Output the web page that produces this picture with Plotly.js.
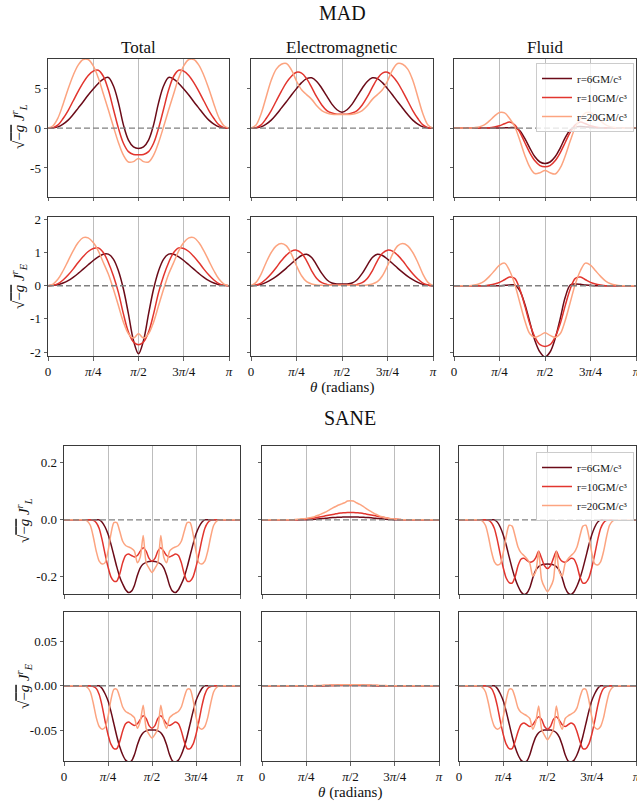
<!DOCTYPE html>
<html><head><meta charset="utf-8">
<script src="https://cdn.plot.ly/plotly-3.0.1.min.js"></script>
<style>html,body{margin:0;padding:0;background:#fff}#chart{width:637px;height:804px}</style>
</head><body><div id="chart"></div>
<script>
// ---------- DATA ----------
const madThetaDeg = [0,5,10,15,20,25,30,35,40,45,50,55,60,65,70,75,80,85,90,95,100,105,110,115,120,125,130,135,140,145,150,155,160,165,170,175,180];
const saneThetaDeg = [0,3,6,9,12,15,18,21,24,27,30,33,36,39,42,45,48,51,54,57,60,63,66,69,72,75,78,81,84,87,90,93,96,99,102,105,108,111,114,117,120,123,126,129,132,135,138,141,144,147,150,153,156,159,162,165,168,171,174,177,180];

const seriesNames = ['r=6GM/c³','r=10GM/c³','r=20GM/c³'];
const columnTitles = ['Total','Electromagnetic','Fluid'];
const groupTitles = ['MAD','SANE'];
const xTickVals = [0, Math.PI/4, Math.PI/2, 3*Math.PI/4, Math.PI];
const xTickText = ['0','<i>π</i>/4','<i>π</i>/2','3<i>π</i>/4','<i>π</i>'];
const madLTicks = [-5,0,5], madLText = ['-5','0','5'];
const madETicks = [-2,-1,0,1,2], madEText = ['-2','-1','0','1','2'];
const saneLTicks = [-0.2,0,0.2], saneLText = ['-0.2','0.0','0.2'];
const saneETicks = [-0.05,0,0.05], saneEText = ['-0.05','0.00','0.05'];

// MAD, L
const madTotL6  = [0,0.02,0.15,0.5,1.0,1.7,2.5,3.3,4.15,4.9,5.6,6.15,6.35,5.3,3.2,0.4,-1.5,-2.35,-2.55,-2.35,-1.5,0.4,3.2,5.3,6.35,6.15,5.6,4.9,4.15,3.3,2.5,1.7,1.0,0.5,0.15,0.02,0];
const madTotL10 = [0,0.05,0.4,1.2,2.2,3.4,4.6,5.7,6.6,7.15,7.25,6.5,4.8,2.4,0.0,-1.9,-2.95,-3.3,-3.35,-3.3,-2.95,-1.9,0.0,2.4,4.8,6.5,7.25,7.15,6.6,5.7,4.6,3.4,2.2,1.2,0.4,0.05,0];
const madTotL20 = [0,0.3,1.3,3.0,4.9,6.6,7.9,8.6,8.6,7.8,6.3,4.3,2.3,0.2,-1.8,-3.4,-4.25,-4.2,-3.8,-4.2,-4.25,-3.4,-1.8,0.2,2.3,4.3,6.3,7.8,8.6,8.6,7.9,6.6,4.9,3.0,1.3,0.3,0];
const madEmL6   = [0,0.02,0.15,0.5,1.0,1.7,2.5,3.3,4.15,4.95,5.7,6.2,6.3,5.85,5.0,4.0,3.0,2.3,2.0,2.3,3.0,4.0,5.0,5.85,6.3,6.2,5.7,4.95,4.15,3.3,2.5,1.7,1.0,0.5,0.15,0.02,0];
const madEmL10  = [0,0.05,0.4,1.2,2.2,3.4,4.6,5.7,6.5,7.0,6.9,6.2,5.1,3.9,2.9,2.2,1.9,1.75,1.75,1.75,1.9,2.2,2.9,3.9,5.1,6.2,6.9,7.0,6.5,5.7,4.6,3.4,2.2,1.2,0.4,0.05,0];
const madEmL20  = [0,0.4,1.8,3.9,6.0,7.4,8.0,8.1,7.3,5.9,4.8,4.2,3.6,2.8,2.2,1.9,1.75,1.7,1.7,1.7,1.75,1.9,2.2,2.8,3.6,4.2,4.8,5.9,7.3,8.1,8.0,7.4,6.0,3.9,1.8,0.4,0];
const madFlL6   = [0,0,0,0,0,0,0,0,0,0.01,0.03,0.05,0.05,-0.3,-1.3,-2.5,-3.6,-4.25,-4.45,-4.25,-3.6,-2.5,-1.2,-0.2,0.15,0.2,0.15,0.1,0.05,0.02,0,0,0,0,0,0,0];
const madFlL10  = [0,0,0,0,0,0,0.02,0.05,0.15,0.3,0.55,0.75,0.4,-0.5,-1.8,-3.1,-4.1,-4.7,-4.85,-4.7,-4.1,-3.1,-1.8,-0.5,0.4,0.75,0.55,0.3,0.15,0.05,0.02,0,0,0,0,0,0];
const madFlL20  = [0,0,0,0,0.05,0.15,0.4,0.9,1.5,1.95,1.9,1.2,0.2,-1.5,-3.4,-4.9,-5.7,-5.6,-5.3,-5.6,-5.75,-5.0,-3.5,-1.6,0.1,1.2,1.9,1.95,1.5,0.9,0.4,0.15,0.05,0,0,0,0];
// MAD, E
const madTotE6  = [0,0.01,0.03,0.08,0.15,0.25,0.37,0.5,0.63,0.76,0.87,0.95,0.95,0.8,0.45,-0.1,-0.85,-1.65,-2.05,-1.65,-0.85,-0.1,0.45,0.8,0.95,0.95,0.87,0.76,0.63,0.5,0.37,0.25,0.15,0.08,0.03,0.01,0];
const madTotE10 = [0,0.01,0.06,0.17,0.32,0.5,0.7,0.88,1.03,1.12,1.14,1.0,0.7,0.3,-0.2,-0.85,-1.4,-1.7,-1.78,-1.7,-1.4,-0.85,-0.2,0.3,0.7,1.0,1.14,1.12,1.03,0.88,0.7,0.5,0.32,0.17,0.06,0.01,0];
const madTotE20 = [0,0.05,0.2,0.45,0.75,1.05,1.3,1.45,1.44,1.3,1.05,0.7,0.35,-0.1,-0.6,-1.1,-1.45,-1.58,-1.45,-1.58,-1.45,-1.1,-0.6,-0.1,0.35,0.7,1.05,1.3,1.44,1.45,1.3,1.05,0.75,0.45,0.2,0.05,0];
const madEmE6   = [0,0.01,0.04,0.1,0.18,0.28,0.4,0.53,0.67,0.8,0.91,0.95,0.85,0.62,0.37,0.18,0.08,0.05,0.05,0.05,0.08,0.18,0.37,0.62,0.85,0.95,0.91,0.8,0.67,0.53,0.4,0.28,0.18,0.1,0.04,0.01,0];
const madEmE10  = [0,0.02,0.08,0.2,0.36,0.55,0.75,0.92,1.04,1.07,0.98,0.75,0.45,0.22,0.09,0.04,0.02,0.02,0.02,0.02,0.02,0.04,0.09,0.22,0.45,0.75,0.98,1.07,1.04,0.92,0.75,0.55,0.36,0.2,0.08,0.02,0];
const madEmE20  = [0,0.1,0.35,0.7,1.0,1.2,1.27,1.2,0.95,0.6,0.3,0.12,0.05,0.02,0.01,0.01,0.01,0.01,0.01,0.01,0.01,0.01,0.01,0.02,0.05,0.12,0.3,0.6,0.95,1.2,1.27,1.2,1.0,0.7,0.35,0.1,0];
const madFlE6   = [0,0,0,0,0,0,0,0,0,0,0.01,0.02,0.02,-0.15,-0.55,-1.1,-1.65,-2.0,-2.15,-2.0,-1.6,-1.0,-0.35,0.02,0.05,0.04,0.02,0.01,0,0,0,0,0,0,0,0,0];
const madFlE10  = [0,0,0,0,0,0,0,0.02,0.05,0.1,0.18,0.26,0.22,-0.1,-0.6,-1.15,-1.55,-1.78,-1.83,-1.78,-1.55,-1.15,-0.6,-0.1,0.22,0.26,0.18,0.1,0.05,0.02,0,0,0,0,0,0,0];
const madFlE20  = [0,0,0,0,0.02,0.06,0.14,0.28,0.45,0.62,0.68,0.45,0.05,-0.5,-1.05,-1.45,-1.56,-1.5,-1.42,-1.5,-1.56,-1.45,-1.05,-0.5,0.05,0.45,0.68,0.62,0.45,0.28,0.14,0.06,0.02,0,0,0,0];
// SANE, L
const saneTotL6  = [0,0,0,0,0,0,0,0,0,0,0,0,0,-0.008,-0.025,-0.05,-0.085,-0.125,-0.165,-0.2,-0.225,-0.245,-0.255,-0.25,-0.23,-0.195,-0.168,-0.155,-0.149,-0.146,-0.145,-0.146,-0.149,-0.155,-0.168,-0.195,-0.23,-0.25,-0.255,-0.245,-0.225,-0.2,-0.165,-0.125,-0.085,-0.05,-0.025,-0.008,0,0,0,0,0,0,0,0,0,0,0,0,0];
const saneTotL10 = [0,0,0,0,0,0,0,0,0,0,-0.002,-0.01,-0.03,-0.07,-0.12,-0.165,-0.2,-0.215,-0.215,-0.19,-0.15,-0.125,-0.12,-0.125,-0.13,-0.125,-0.11,-0.098,-0.11,-0.135,-0.145,-0.135,-0.11,-0.098,-0.11,-0.125,-0.13,-0.125,-0.12,-0.125,-0.15,-0.19,-0.215,-0.215,-0.2,-0.165,-0.12,-0.07,-0.03,-0.01,-0.002,0,0,0,0,0,0,0,0,0,0];
const saneTotL20 = [0,0,0,0,0,0,0,0,-0.005,-0.02,-0.06,-0.11,-0.145,-0.155,-0.15,-0.11,-0.05,-0.01,-0.01,-0.04,-0.075,-0.09,-0.095,-0.1,-0.11,-0.15,-0.13,-0.055,-0.15,-0.17,-0.185,-0.17,-0.15,-0.055,-0.13,-0.15,-0.11,-0.1,-0.095,-0.09,-0.075,-0.04,-0.01,-0.01,-0.05,-0.11,-0.15,-0.155,-0.145,-0.11,-0.06,-0.02,-0.005,0,0,0,0,0,0,0,0];
const saneEmL6   = [0,0,0,0,0,0,0,0,0,0,0,0,0,0,0,0.0005,0.001,0.0015,0.002,0.003,0.004,0.005,0.006,0.007,0.008,0.0085,0.009,0.0095,0.01,0.01,0.01,0.01,0.01,0.0095,0.009,0.0085,0.008,0.007,0.006,0.005,0.004,0.003,0.002,0.0015,0.001,0.0005,0,0,0,0,0,0,0,0,0,0,0,0,0,0,0];
const saneEmL10  = [0,0,0,0,0,0,0,0,0,0,0,0,0,0.001,0.002,0.003,0.004,0.005,0.007,0.009,0.011,0.013,0.015,0.017,0.019,0.021,0.023,0.024,0.025,0.026,0.026,0.026,0.025,0.024,0.023,0.021,0.019,0.017,0.015,0.013,0.011,0.009,0.007,0.005,0.004,0.003,0.002,0.001,0,0,0,0,0,0,0,0,0,0,0,0,0];
const saneEmL20  = [0,0,0,0,0,0,0,0,0,0,0,0.001,0.002,0.003,0.004,0.005,0.007,0.009,0.012,0.016,0.02,0.025,0.03,0.036,0.042,0.047,0.052,0.056,0.06,0.066,0.067,0.066,0.06,0.055,0.049,0.042,0.035,0.029,0.023,0.018,0.013,0.01,0.007,0.005,0.004,0.003,0.002,0.001,0,0,0,0,0,0,0,0,0,0,0,0,0];
const saneFlL6   = [0,0,0,0,0,0,0,0,0,0,0,0,0,-0.008,-0.026,-0.053,-0.088,-0.13,-0.17,-0.205,-0.232,-0.252,-0.262,-0.257,-0.238,-0.204,-0.177,-0.164,-0.158,-0.156,-0.155,-0.156,-0.158,-0.164,-0.177,-0.204,-0.238,-0.257,-0.262,-0.252,-0.232,-0.205,-0.17,-0.13,-0.088,-0.053,-0.026,-0.008,0,0,0,0,0,0,0,0,0,0,0,0,0];
const saneFlL10  = [0,0,0,0,0,0,0,0,0,0,-0.002,-0.01,-0.03,-0.071,-0.122,-0.168,-0.204,-0.22,-0.222,-0.2,-0.161,-0.138,-0.135,-0.142,-0.149,-0.146,-0.133,-0.11,-0.135,-0.161,-0.171,-0.161,-0.135,-0.11,-0.133,-0.146,-0.149,-0.142,-0.135,-0.138,-0.161,-0.2,-0.222,-0.22,-0.204,-0.168,-0.122,-0.071,-0.03,-0.01,-0.002,0,0,0,0,0,0,0,0,0,0];
const saneFlL20  = [0,0,0,0,0,0,0,0,-0.005,-0.02,-0.06,-0.111,-0.147,-0.158,-0.154,-0.115,-0.057,-0.019,-0.022,-0.056,-0.095,-0.115,-0.125,-0.136,-0.152,-0.197,-0.182,-0.111,-0.21,-0.236,-0.252,-0.236,-0.21,-0.111,-0.182,-0.197,-0.152,-0.136,-0.125,-0.115,-0.095,-0.056,-0.022,-0.019,-0.057,-0.115,-0.154,-0.158,-0.147,-0.111,-0.06,-0.02,-0.005,0,0,0,0,0,0,0,0];
// SANE, E
const saneTotE6  = [0,0,0,0,0,0,0,0,0,0,0,0,0,-0.003,-0.009,-0.017,-0.029,-0.043,-0.057,-0.069,-0.078,-0.084,-0.086,-0.085,-0.078,-0.067,-0.058,-0.053,-0.051,-0.05,-0.05,-0.05,-0.051,-0.053,-0.058,-0.067,-0.078,-0.085,-0.086,-0.084,-0.078,-0.069,-0.057,-0.043,-0.029,-0.017,-0.009,-0.003,0,0,0,0,0,0,0,0,0,0,0,0,0];
const saneTotE10 = [0,0,0,0,0,0,0,0,0,0,-0.001,-0.003,-0.01,-0.023,-0.04,-0.055,-0.066,-0.071,-0.071,-0.063,-0.051,-0.043,-0.041,-0.043,-0.045,-0.043,-0.038,-0.034,-0.037,-0.045,-0.048,-0.045,-0.037,-0.034,-0.038,-0.043,-0.045,-0.043,-0.041,-0.043,-0.051,-0.063,-0.071,-0.071,-0.066,-0.055,-0.04,-0.023,-0.01,-0.003,-0.001,0,0,0,0,0,0,0,0,0,0];
const saneTotE20 = [0,0,0,0,0,0,0,0,-0.002,-0.007,-0.02,-0.036,-0.046,-0.049,-0.047,-0.035,-0.016,-0.004,-0.004,-0.013,-0.024,-0.029,-0.031,-0.033,-0.036,-0.048,-0.04,-0.022,-0.048,-0.055,-0.059,-0.055,-0.048,-0.022,-0.04,-0.048,-0.036,-0.033,-0.031,-0.029,-0.024,-0.013,-0.004,-0.004,-0.016,-0.035,-0.047,-0.049,-0.046,-0.036,-0.02,-0.007,-0.002,0,0,0,0,0,0,0,0];
const saneEmE6   = [0,0,0,0,0,0,0,0,0,0,0,0,0,0,0,0,0,0,0,0,0,0.0001,0.0001,0.0002,0.0002,0.0002,0.0003,0.0003,0.0003,0.0003,0.0003,0.0003,0.0003,0.0003,0.0003,0.0002,0.0002,0.0002,0.0001,0.0001,0,0,0,0,0,0,0,0,0,0,0,0,0,0,0,0,0,0,0,0,0];
const saneEmE10  = [0,0,0,0,0,0,0,0,0,0,0,0,0,0,0,0,0,0,0,0,0,0.0002,0.0002,0.0003,0.0004,0.0004,0.0005,0.0005,0.0006,0.0006,0.0006,0.0006,0.0006,0.0005,0.0005,0.0004,0.0004,0.0003,0.0002,0.0002,0,0,0,0,0,0,0,0,0,0,0,0,0,0,0,0,0,0,0,0,0];
const saneEmE20  = [0,0,0,0,0,0,0,0,0,0,0,0,0,0,0,0,0,0.0001,0.0002,0.0003,0.0004,0.0005,0.0006,0.0007,0.0008,0.0009,0.001,0.0011,0.0012,0.0012,0.0012,0.0012,0.0012,0.0011,0.001,0.0009,0.0008,0.0007,0.0006,0.0005,0.0004,0.0003,0.0002,0.0001,0,0,0,0,0,0,0,0,0,0,0,0,0,0,0,0,0];
const saneFlE6   = [0,0,0,0,0,0,0,0,0,0,0,0,0,-0.003,-0.009,-0.017,-0.029,-0.043,-0.057,-0.069,-0.078,-0.084,-0.086,-0.085,-0.078,-0.067,-0.058,-0.053,-0.051,-0.05,-0.05,-0.05,-0.051,-0.053,-0.058,-0.067,-0.078,-0.085,-0.086,-0.084,-0.078,-0.069,-0.057,-0.043,-0.029,-0.017,-0.009,-0.003,0,0,0,0,0,0,0,0,0,0,0,0,0];
const saneFlE10  = [0,0,0,0,0,0,0,0,0,0,-0.001,-0.003,-0.01,-0.023,-0.04,-0.055,-0.066,-0.071,-0.071,-0.063,-0.052,-0.044,-0.042,-0.044,-0.046,-0.044,-0.039,-0.035,-0.038,-0.046,-0.049,-0.046,-0.038,-0.035,-0.039,-0.044,-0.046,-0.044,-0.042,-0.044,-0.052,-0.063,-0.071,-0.071,-0.066,-0.055,-0.04,-0.023,-0.01,-0.003,-0.001,0,0,0,0,0,0,0,0,0,0];
const saneFlE20  = [0,0,0,0,0,0,0,0,-0.002,-0.007,-0.02,-0.036,-0.046,-0.049,-0.047,-0.035,-0.016,-0.004,-0.004,-0.013,-0.025,-0.03,-0.032,-0.034,-0.037,-0.049,-0.041,-0.023,-0.049,-0.056,-0.061,-0.056,-0.049,-0.023,-0.041,-0.049,-0.037,-0.034,-0.032,-0.03,-0.025,-0.013,-0.004,-0.004,-0.016,-0.035,-0.047,-0.049,-0.046,-0.036,-0.02,-0.007,-0.002,0,0,0,0,0,0,0,0];
const zeroLineX = [0, Math.PI], zeroLineY = [0, 0];

// ---------- STYLE / LAYOUT ----------
const W = 637, H = 804;
const COLORS = ['#6b0b18', '#e2352e', '#fca480'];
const FONT = 'Liberation Serif, DejaVu Serif, serif';
const AXC = '#3a3a3a';
const toRad = d => d.map(v => v * Math.PI / 180);
const madX = toRad(madThetaDeg), saneX = toRad(saneThetaDeg);

const panels = [
  {x: madX, ys: [madTotL6, madTotL10, madTotL20]},
  {x: madX, ys: [madEmL6, madEmL10, madEmL20]},
  {x: madX, ys: [madFlL6, madFlL10, madFlL20], legend: 'legend'},
  {x: madX, ys: [madTotE6, madTotE10, madTotE20]},
  {x: madX, ys: [madEmE6, madEmE10, madEmE20]},
  {x: madX, ys: [madFlE6, madFlE10, madFlE20]},
  {x: saneX, ys: [saneTotL6, saneTotL10, saneTotL20]},
  {x: saneX, ys: [saneEmL6, saneEmL10, saneEmL20]},
  {x: saneX, ys: [saneFlL6, saneFlL10, saneFlL20], legend: 'legend2'},
  {x: saneX, ys: [saneTotE6, saneTotE10, saneTotE20]},
  {x: saneX, ys: [saneEmE6, saneEmE10, saneEmE20]},
  {x: saneX, ys: [saneFlE6, saneFlE10, saneFlE20]},
];
const colsMad = [[48,229],[251,433],[454,636]];
const colsSane = [[64,240],[262,439],[459,636]];
const rowsPx = [[58.7,196.7],[216.7,356],[445.7,594],[612.3,761]];
const yRanges = [[-8.6,8.7],[-2.12,2.08],[-0.26,0.26],[-0.085,0.083]];
const yTickSets = [[madLTicks,madLText],[madETicks,madEText],[saneLTicks,saneLText],[saneETicks,saneEText]];

const traces = [];
const layout = {
  width: W, height: H, margin: {l:0, r:0, t:0, b:0},
  paper_bgcolor: '#fff', plot_bgcolor: '#fff',
  font: {family: FONT, color: '#111'},
  showlegend: true,
  annotations: [], 
};
panels.forEach((p, i) => {
  const k = i + 1, sfx = k === 1 ? '' : String(k);
  const row = Math.floor(i / 3), col = i % 3;
  const cols = row < 2 ? colsMad : colsSane;
  const xd = [cols[col][0] / W, cols[col][1] / W];
  const yd = [1 - rowsPx[row][1] / H, 1 - rowsPx[row][0] / H];
  p.ys.forEach((y, j) => {
    traces.push({
      type: 'scatter', mode: 'lines', x: p.x, y: y,
      xaxis: 'x' + sfx, yaxis: 'y' + sfx,
      line: {color: COLORS[j], width: 1.5, shape: 'spline', smoothing: row < 2 ? 1 : 0.7},
      name: seriesNames[j],
      showlegend: !!p.legend, legend: p.legend || 'legend',
      hoverinfo: 'skip'
    });
  });
  traces.push({
    type: 'scatter', mode: 'lines', x: zeroLineX, y: zeroLineY,
    xaxis: 'x' + sfx, yaxis: 'y' + sfx,
    line: {color: '#808080', width: 1.4, dash: '6px,3px'},
    showlegend: false, hoverinfo: 'skip'
  });
  const showX = (row === 1 || row === 3);
  layout['xaxis' + sfx] = {
    domain: xd, anchor: 'y' + sfx, range: [0, Math.PI],
    tickvals: xTickVals, ticktext: xTickText, showticklabels: showX,
    ticklabeloverflow: 'allow',
    ticks: 'outside', ticklen: 3.5, tickwidth: 0.8, tickcolor: AXC,
    showline: true, mirror: true, linecolor: AXC, linewidth: 1,
    showgrid: true, gridcolor: '#bdbdbd', gridwidth: 1, zeroline: false,
    tickfont: {family: FONT, size: 13, color: '#111'}
  };
  layout['yaxis' + sfx] = {
    domain: yd, anchor: 'x' + sfx, range: yRanges[row],
    tickvals: yTickSets[row][0], ticktext: yTickSets[row][1], showticklabels: col === 0,
    ticks: 'outside', ticklen: 3.5, tickwidth: 0.8, tickcolor: AXC,
    showline: true, mirror: true, linecolor: AXC, linewidth: 1,
    showgrid: false, zeroline: false,
    tickfont: {family: FONT, size: 13, color: '#111'}
  };
});

const A = layout.annotations;
const ann = (text, xpx, ypx, size, angle) => A.push({
  text: text, xref: 'paper', yref: 'paper', x: xpx / W, y: 1 - ypx / H,
  xanchor: 'center', yanchor: 'middle', showarrow: false, textangle: angle || 0,
  font: {family: FONT, size: size, color: '#111'}
});
ann(groupTitles[0], 342, 13, 20);
ann(groupTitles[1], 350, 418, 20);
columnTitles.forEach((t, c) => ann(t, (colsMad[c][0] + colsMad[c][1]) / 2, 48, 17));
const yLabL = '√<span style="text-decoration:overline">−<i>g</i></span> <i>J</i><sup><i>r</i></sup><sub><i>L</i></sub>';
const yLabE = '√<span style="text-decoration:overline">−<i>g</i></span> <i>J</i><sup><i>r</i></sup><sub><i>E</i></sub>';
ann(yLabL, 19, 127, 15, -90);
ann(yLabE, 19, 286, 15, -90);
ann(yLabL, 24, 520, 15, -90);
ann(yLabE, 24, 686, 15, -90);
ann('<i>θ</i> (radians)', 342, 387, 15);
ann('<i>θ</i> (radians)', 350, 792, 15);

const legendStyle = (ypx) => ({
  x: 536 / W, y: 1 - ypx / H, xanchor: 'left', yanchor: 'top',
  bgcolor: 'rgba(255,255,255,0.8)', bordercolor: '#cccccc', borderwidth: 1,
  font: {family: FONT, size: 11, color: '#111'}, itemwidth: 30, tracegroupgap: 0
});
layout.legend = legendStyle(63);
layout.legend2 = legendStyle(452);

Plotly.newPlot('chart', traces, layout, {staticPlot: true, displayModeBar: false});
</script>
</body></html>
